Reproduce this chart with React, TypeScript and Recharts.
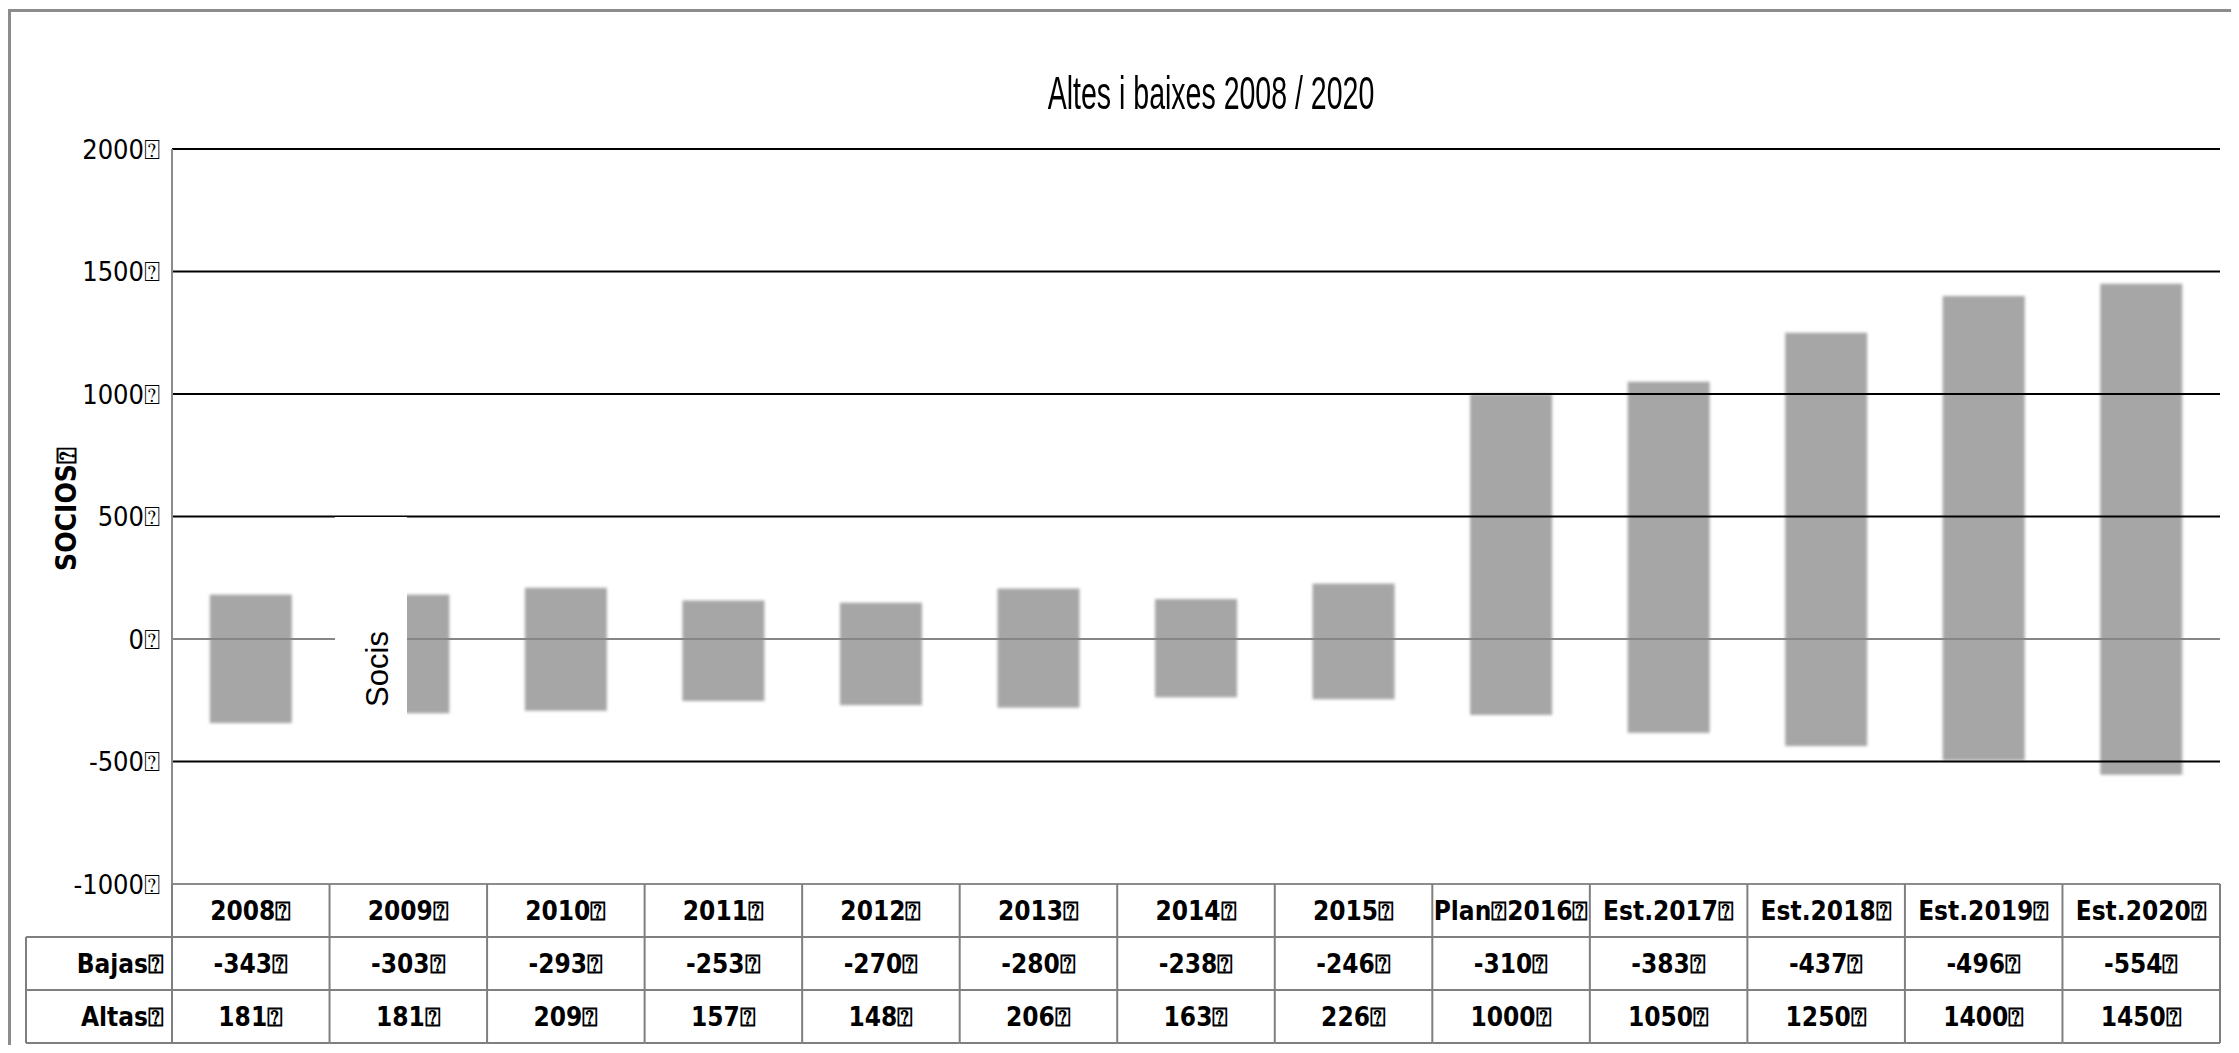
import React from 'react';
import { BarChart, Bar, XAxis, YAxis, ReferenceLine, Legend } from 'recharts';

const categories = ['2008', '2009', '2010', '2011', '2012', '2013', '2014', '2015', 'Plan 2016', 'Est.2017', 'Est.2018', 'Est.2019', 'Est.2020'];
const bajas = [-343, -303, -293, -253, -270, -280, -238, -246, -310, -383, -437, -496, -554];
const altas = [181, 181, 209, 157, 148, 206, 163, 226, 1000, 1050, 1250, 1400, 1450];
const yTicks = [-1000, -500, 0, 500, 1000, 1500, 2000];
const gridValues = [-500, 500, 1000, 1500, 2000];
const rowHeaders = ['Bajas', 'Altas'];
const seriesName = 'Socis';
const chartTitle = 'Altes i baixes 2008 / 2020';
const yLabel = 'SOCIOS';

const TOFU = '\u2370';
const NARROW = '"Liberation Sans Narrow", "Arial Narrow", "DejaVu Sans Condensed", sans-serif';
const ARIAL = '"Liberation Sans", Arial, Helvetica, sans-serif';

const W = 2223;
const H = 1037;
const PLOT_LEFT = 164;
const PLOT_RIGHT = 2212;
const PLOT_TOP = 141;
const PLOT_BOTTOM = 876;
const XAXIS_H = 160;
const BAND = (PLOT_RIGHT - PLOT_LEFT) / categories.length;
const ROW = 53;
const HEAD_LEFT = 18;
const TABLE_STROKE = '#7f7f7f';

const data = categories.map((c, i) => ({ cat: c, range: [bajas[i], altas[i]], bajas: bajas[i], altas: altas[i] }));

const tofuText = (s: string) => s.replace(/ /g, TOFU) + TOFU;

const TableTick = (props: any) => {
  const { x, y, payload } = props;
  const i = payload.index;
  const left = x - BAND / 2;
  const right = x + BAND / 2;
  const r0 = y;
  const r1 = y + ROW;
  const r2 = y + 2 * ROW;
  const r3 = y + 3 * ROW;
  const txt = { fontFamily: NARROW, fontSize: 26, fontWeight: 700, fill: '#000' } as any;
  return (
    <g>
      {i === 0 && <line x1={left} y1={r0} x2={left} y2={r3} stroke={TABLE_STROKE} strokeWidth={2} />}
      <line x1={right} y1={r0} x2={right} y2={r3} stroke={TABLE_STROKE} strokeWidth={2} />
      <line x1={left} y1={r1} x2={right} y2={r1} stroke={TABLE_STROKE} strokeWidth={2} />
      <line x1={left} y1={r2} x2={right} y2={r2} stroke={TABLE_STROKE} strokeWidth={2} />
      <line x1={left} y1={r3} x2={right} y2={r3} stroke={TABLE_STROKE} strokeWidth={2} />
      <text x={x} y={(r0 + r1) / 2} textAnchor="middle" dominantBaseline="central" {...txt}>{tofuText(categories[i])}</text>
      <text x={x} y={(r1 + r2) / 2} textAnchor="middle" dominantBaseline="central" {...txt}>{tofuText(String(bajas[i]))}</text>
      <text x={x} y={(r2 + r3) / 2} textAnchor="middle" dominantBaseline="central" {...txt}>{tofuText(String(altas[i]))}</text>
      {i === 0 && (
        <g>
          <line x1={HEAD_LEFT} y1={r1} x2={left} y2={r1} stroke={TABLE_STROKE} strokeWidth={2} />
          <line x1={HEAD_LEFT} y1={r2} x2={left} y2={r2} stroke={TABLE_STROKE} strokeWidth={2} />
          <line x1={HEAD_LEFT} y1={r3} x2={left} y2={r3} stroke={TABLE_STROKE} strokeWidth={2} />
          <line x1={HEAD_LEFT} y1={r1} x2={HEAD_LEFT} y2={r3} stroke={TABLE_STROKE} strokeWidth={2} />
          <text x={left - 8} y={(r1 + r2) / 2} textAnchor="end" dominantBaseline="central" {...txt}>{tofuText(rowHeaders[0])}</text>
          <text x={left - 8} y={(r2 + r3) / 2} textAnchor="end" dominantBaseline="central" {...txt}>{tofuText(rowHeaders[1])}</text>
        </g>
      )}
    </g>
  );
};

const BarShape = (p: any) => {
  const h = Math.abs(p.height);
  const yy = p.height < 0 ? p.y + p.height : p.y;
  return <rect x={p.x} y={yy} width={p.width} height={h} fill="#a6a6a6" filter="url(#softBar)" />;
};

const LegendBox = (props: any) => {
  const name = props.payload && props.payload[0] ? props.payload[0].value : seriesName;
  return (
    <div style={{ width: 72, height: 208, background: '#fff', position: 'relative' }}>
      <span
        style={{
          position: 'absolute',
          left: 42,
          top: 152,
          transform: 'translate(-50%, -50%) rotate(-90deg)',
          fontFamily: ARIAL,
          fontSize: 31,
          color: '#000',
          whiteSpace: 'nowrap',
          lineHeight: 1,
        }}
      >
        {name}
      </span>
    </div>
  );
};

export default function App() {
  return (
    <div style={{ position: 'relative', width: W, height: H, overflow: 'hidden', background: '#fff' }}>
      <div
        style={{
          position: 'absolute',
          left: 0,
          top: 1,
          width: 4000,
          height: 4000,
          borderLeft: '3px solid #8c8c8c',
          borderTop: '3px solid #8c8c8c',
        }}
      />
      <div
        style={{
          position: 'absolute',
          left: 0,
          width: 2406,
          top: 60,
          textAlign: 'center',
          fontFamily: ARIAL,
          fontSize: 46,
          lineHeight: '50px',
          color: '#000',
          transform: 'scaleX(0.62)',
          transformOrigin: '1203px 25px',
        }}
      >
        {chartTitle}
      </div>
      <div style={{ position: 'absolute', left: 0, top: 0 }}>
        <BarChart
          width={W}
          height={H}
          data={data}
          margin={{ top: PLOT_TOP, right: W - PLOT_RIGHT, bottom: H - PLOT_BOTTOM - XAXIS_H, left: PLOT_LEFT - 64 }}
          barCategoryGap="24%"
        >
          <defs>
            <filter id="softBar" x="-10%" y="-10%" width="120%" height="120%">
              <feGaussianBlur stdDeviation="1.5" />
            </filter>
          </defs>
          <XAxis
            dataKey="cat"
            height={XAXIS_H}
            interval={0}
            axisLine={{ stroke: '#8c8c8c', strokeWidth: 2 }}
            tickLine={false}
            tickSize={0}
            tickMargin={0}
            tick={<TableTick />}
          />
          <YAxis
            width={64}
            domain={[-1000, 2000]}
            ticks={yTicks}
            interval={0}
            axisLine={{ stroke: '#8c8c8c', strokeWidth: 2 }}
            tickLine={false}
            tickSize={0}
            tickMargin={12}
            tickFormatter={(v: number) => `${v}${TOFU}`}
            tick={{ fontFamily: NARROW, fontSize: 27, fill: '#000' }}
            label={{
              value: `${yLabel}${TOFU}`,
              content: (lp: any) => (
                <text
                  x={58}
                  y={501}
                  transform="rotate(-90 58 501)"
                  textAnchor="middle"
                  dominantBaseline="central"
                  fontFamily={NARROW}
                  fontSize={28}
                  fontWeight={700}
                  fill="#000"
                >
                  {lp.value}
                </text>
              ),
            }}
          />
          <Bar dataKey="range" name={seriesName} fill="#a6a6a6" shape={<BarShape />} isAnimationActive={false} />
          {gridValues.map((v) => (
            <ReferenceLine key={v} y={v} stroke="#000" strokeWidth={2} />
          ))}
          <ReferenceLine y={0} stroke="#868686" strokeWidth={2} />
          <Legend
            layout="vertical"
            align="center"
            verticalAlign="middle"
            content={<LegendBox />}
            wrapperStyle={{ left: 327, top: 509, width: 72, height: 208 }}
          />
        </BarChart>
      </div>
    </div>
  );
}
